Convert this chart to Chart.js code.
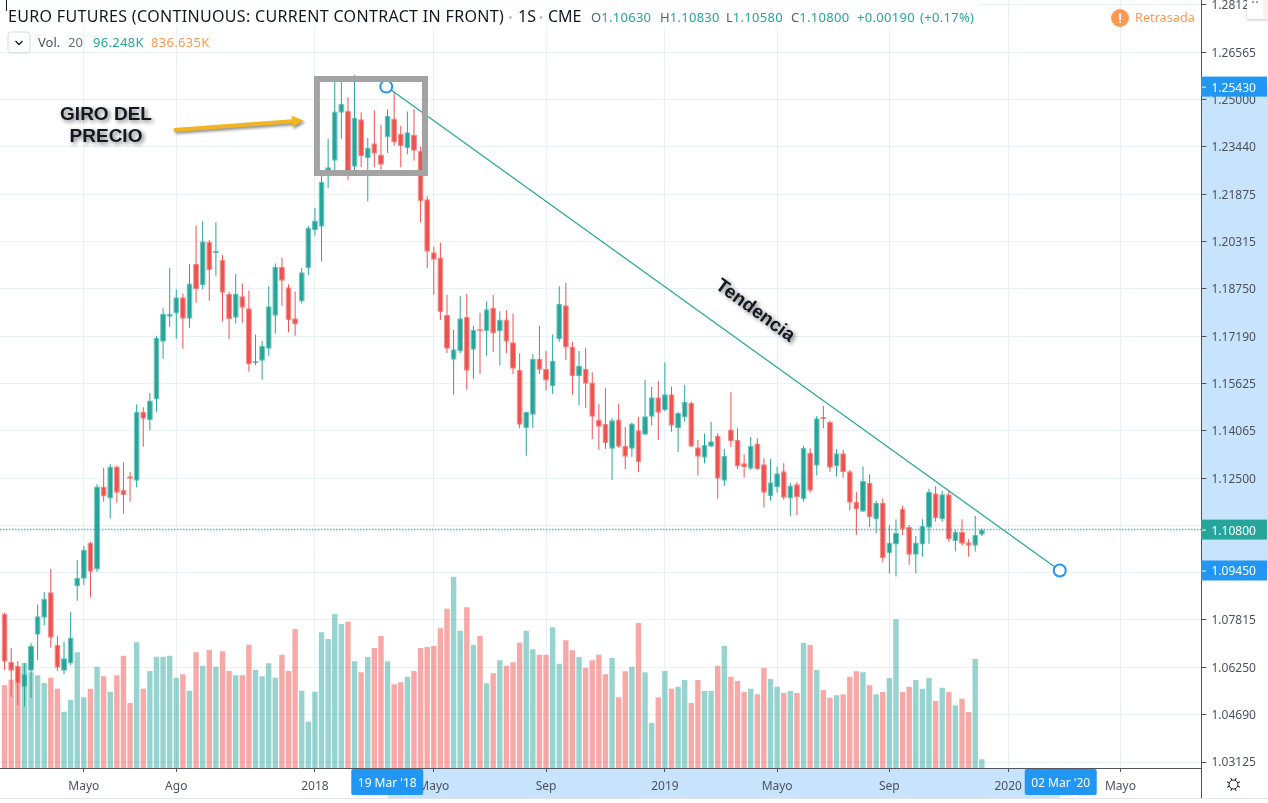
<!DOCTYPE html>
<html>
<head>
<meta charset="utf-8">
<title>Euro Futures</title>
<style>html,body{margin:0;padding:0;background:#fff;overflow:hidden}canvas{display:block}</style>
<script src="https://cdn.jsdelivr.net/npm/chart.js@4/dist/chart.umd.min.js"></script>
</head>
<body>
<canvas id="c" width="1268" height="803"></canvas>
<script>
const openPrices = [
1.0801,1.0644,1.0630,1.0561,1.0614,1.0733,1.0789,1.0873,1.0699,1.0614,
1.0638,1.0894,1.0918,1.1037,1.0948,1.1222,1.1183,1.1288,1.1211,1.1256,
1.1241,1.1469,1.1442,1.1510,1.1700,1.1783,1.1794,1.1847,1.1776,1.1957,
1.1888,1.2030,1.1993,1.1970,1.1858,1.1780,1.1851,1.1811,1.1630,1.1638,
1.1677,1.1786,1.1948,1.1880,1.1778,1.1833,1.1943,1.2069,1.2080,1.2251,
1.2298,1.2457,1.2463,1.2278,1.2435,1.2306,1.2356,1.2319,1.2376,1.2438,
1.2387,1.2339,1.2384,1.2330,1.2171,1.1996,1.1979,1.1789,1.1641,1.1670,
1.1782,1.1674,1.1742,1.1736,1.1812,1.1736,1.1774,1.1699,1.1607,1.1415,
1.1459,1.1643,1.1610,1.1554,1.1709,1.1821,1.1683,1.1587,1.1610,1.1566,
1.1444,1.1429,1.1347,1.1444,1.1356,1.1347,1.1408,1.1393,1.1453,1.1517,
1.1474,1.1527,1.1415,1.1452,1.1499,1.1352,1.1317,1.1354,1.1389,1.1241,
1.1411,1.1376,1.1299,1.1281,1.1364,1.1296,1.1191,1.1220,1.1273,1.1183,
1.1230,1.1180,1.1335,1.1291,1.1452,1.1436,1.1289,1.1332,1.1273,1.1171,
1.1139,1.1234,1.1115,1.1168,1.1002,1.1031,1.1150,1.1089,1.0997,1.1031,
1.1086,1.1200,1.1114,1.1197,1.1042,1.1073,1.1038,1.1027,1.1063];
const closePrices = [
1.0644,1.0614,1.0571,1.0602,1.0696,1.0794,1.0852,1.0723,1.0624,1.0655,
1.0724,1.0921,1.1013,1.0941,1.1222,1.1189,1.1288,1.1202,1.1194,1.1248,
1.1469,1.1446,1.1506,1.1713,1.1792,1.1792,1.1847,1.1776,1.1893,1.1874,
1.2032,1.1937,1.2000,1.1862,1.1775,1.1858,1.1813,1.1627,1.1637,1.1687,
1.1818,1.1948,1.1902,1.1772,1.1757,1.1930,1.2077,1.2101,1.2228,1.2277,
1.2461,1.2486,1.2261,1.2439,1.2314,1.2340,1.2321,1.2285,1.2446,1.2358,
1.2346,1.2392,1.2331,1.2164,1.1998,1.1971,1.1798,1.1677,1.1676,1.1778,
1.1605,1.1739,1.1736,1.1808,1.1728,1.1774,1.1700,1.1611,1.1426,1.1469,
1.1643,1.1608,1.1572,1.1637,1.1825,1.1681,1.1587,1.1621,1.1562,1.1453,
1.1420,1.1365,1.1441,1.1354,1.1321,1.1430,1.1303,1.1454,1.1517,1.1466,
1.1527,1.1423,1.1465,1.1501,1.1354,1.1321,1.1360,1.1372,1.1248,1.1324,
1.1373,1.1288,1.1286,1.1356,1.1280,1.1202,1.1236,1.1266,1.1185,1.1226,
1.1188,1.1350,1.1208,1.1448,1.1445,1.1284,1.1332,1.1270,1.1169,1.1147,
1.1241,1.1122,1.1168,1.0986,1.1037,1.1069,1.1081,1.0997,1.1037,1.1092,
1.1204,1.1118,1.1197,1.1049,1.1073,1.1033,1.1027,1.1062,1.1080];
const highPrices = [
1.0806,1.0689,1.0646,1.0639,1.0705,1.0833,1.0874,1.0950,1.0729,1.0710,
1.0808,1.0980,1.1026,1.1040,1.1230,1.1284,1.1296,1.1292,1.1302,1.1270,
1.1494,1.1484,1.1531,1.1720,1.1811,1.1944,1.1874,1.1860,1.1957,1.2084,
1.2098,1.2036,1.2095,1.1987,1.1865,1.1924,1.1893,1.1869,1.1724,1.1703,
1.1884,1.1959,1.1979,1.1890,1.1866,1.1944,1.2083,1.2142,1.2264,1.2370,
1.2571,1.2571,1.2508,1.2581,1.2458,1.2373,1.2465,1.2417,1.2468,1.2526,
1.2413,1.2461,1.2468,1.2344,1.2182,1.2014,1.2027,1.1855,1.1739,1.1851,
1.1859,1.1753,1.1796,1.1833,1.1855,1.1801,1.1804,1.1793,1.1662,1.1469,
1.1659,1.1753,1.1670,1.1724,1.1884,1.1894,1.1700,1.1670,1.1680,1.1600,
1.1495,1.1547,1.1448,1.1495,1.1419,1.1434,1.1452,1.1575,1.1551,1.1571,
1.1632,1.1553,1.1469,1.1558,1.1503,1.1376,1.1397,1.1436,1.1398,1.1346,
1.1534,1.1415,1.1329,1.1386,1.1382,1.1316,1.1313,1.1288,1.1299,1.1234,
1.1236,1.1357,1.1349,1.1455,1.1488,1.1440,1.1346,1.1343,1.1277,1.1204,
1.1288,1.1263,1.1175,1.1183,1.1095,1.1114,1.1160,1.1095,1.1059,1.1114,
1.1215,1.1223,1.1208,1.1208,1.1079,1.1114,1.1049,1.1125,1.1083];
const lowPrices = [
1.0616,1.0528,1.0501,1.0495,1.0525,1.0649,1.0765,1.0690,1.0613,1.0602,
1.0633,1.0845,1.0897,1.0856,1.0941,1.1172,1.1117,1.1169,1.1133,1.1172,
1.1220,1.1354,1.1408,1.1469,1.1644,1.1750,1.1710,1.1677,1.1747,1.1829,
1.1874,1.1836,1.1918,1.1767,1.1709,1.1761,1.1763,1.1601,1.1623,1.1575,
1.1654,1.1728,1.1819,1.1732,1.1720,1.1827,1.1921,1.2051,1.1965,1.2208,
1.2248,1.2371,1.2234,1.2251,1.2277,1.2164,1.2277,1.2268,1.2324,1.2348,
1.2277,1.2320,1.2298,1.2095,1.1943,1.1855,1.1772,1.1663,1.1525,1.1663,
1.1542,1.1578,1.1594,1.1654,1.1666,1.1623,1.1662,1.1594,1.1415,1.1324,
1.1415,1.1594,1.1539,1.1528,1.1700,1.1640,1.1525,1.1491,1.1482,1.1379,
1.1343,1.1346,1.1244,1.1350,1.1280,1.1321,1.1270,1.1393,1.1423,1.1376,
1.1471,1.1403,1.1336,1.1436,1.1354,1.1259,1.1299,1.1354,1.1182,1.1225,
1.1353,1.1280,1.1251,1.1277,1.1277,1.1154,1.1175,1.1202,1.1179,1.1125,
1.1128,1.1172,1.1202,1.1259,1.1415,1.1270,1.1255,1.1251,1.1144,1.1063,
1.1139,1.1089,1.1068,1.0972,1.0936,1.0925,1.1062,1.0964,1.0936,1.0990,
1.1033,1.1106,1.1106,1.1040,1.1008,1.1027,1.0990,1.1008,1.1058];
const volumeK = [
913,971,927,1155,1053,1020,935,993,872,619,
751,1273,778,872,1114,1009,839,1020,1235,715,
1383,872,1067,1224,1224,1235,993,1031,850,1273,
1125,1298,1114,1284,1067,1020,1020,1356,1078,1009,
1152,993,1246,1067,1529,850,509,839,1493,1419,
1694,1584,1609,1174,1053,1221,1320,1452,1174,921,
943,1004,1067,1320,1331,1342,1537,1752,2104,1510,
1768,1353,1452,932,1042,1185,1125,1163,1378,1510,
1306,1246,1246,1548,1147,1405,1295,1221,1103,1185,
1246,1031,1210,778,1064,1114,1595,1053,495,778,
1067,872,894,968,715,968,847,847,1125,1342,
1004,957,836,872,811,1100,979,894,825,847,
825,1378,1353,1078,858,773,800,811,1004,1064,
1053,910,811,836,990,1636,836,894,968,872,
990,737,883,836,690,762,616,1199,96.248];

const priceTicks = [1.28125,1.26565,1.25,1.2344,1.21875,1.20315,1.1875,1.1719,1.15625,1.14065,1.125,1.10935,1.09375,1.07815,1.0625,1.0469,1.03125];
const timeTickIndex = [12,26,47,65,82,100,117,134,152,169];
const timeTickLabels = ['Mayo','Ago','2018','Mayo','Sep','2019','Mayo','Sep','2020','Mayo'];

const lastPrice = 1.108;
const trendIndex = [57.8,159.8];
const trendPrice = [1.2543,1.0945];
const trendDateLabels = ["19 Mar '18","02 Mar '20"];
const boxIndex = [47.3,63.67];
const boxPrice = [1.25681,1.22577];
const arrowIndex = [25.65,45.27];
const arrowPrice = [1.2400,1.2431];

const X_MIN = -0.697, X_MAX = 181.27;
const Y_MIN = 1.02927, Y_MAX = 1.2829;
const VOL_MAX = 8451;
const GREEN = '#26a69a', RED = '#ef5350', BLUE = '#2196f3', SHADE = '#c8e4fd';
const UI_FONT = '"Noto Sans"';

const idx = openPrices.map((_, i) => i);
const isUp = i => closePrices[i] >= openPrices[i];

function txt(ctx, s, x, y, font, color, opt) {
  opt = opt || {};
  ctx.save();
  ctx.font = font;
  ctx.fillStyle = color;
  ctx.textAlign = opt.align || 'left';
  ctx.textBaseline = 'alphabetic';
  if (opt.spacing) ctx.letterSpacing = opt.spacing;
  if (opt.shadow) {
    ctx.shadowColor = 'rgba(0,0,0,0.55)';
    ctx.shadowBlur = 4;
    ctx.shadowOffsetX = 2;
    ctx.shadowOffsetY = 2;
  }
  if (opt.rotate !== undefined) {
    ctx.translate(x, y);
    ctx.rotate(opt.rotate);
    ctx.fillText(s, 0, 0);
  } else {
    ctx.fillText(s, x, y);
  }
  ctx.restore();
}

const chromePlugin = {
  id: 'chrome',
  beforeDraw(chart) {
    const { ctx, scales } = chart;
    const y0 = scales.y.getPixelForValue(trendPrice[0]);
    const y1 = scales.y.getPixelForValue(trendPrice[1]);
    const x0 = scales.x.getPixelForValue(58);
    const x1 = scales.x.getPixelForValue(trendIndex[1]);
    ctx.save();
    ctx.fillStyle = SHADE;
    ctx.fillRect(1202, y0, 66, y1 - y0);
    ctx.fillRect(x0, 769, x1 - x0, 29);
    ctx.restore();
  },
  beforeDatasetsDraw(chart) {
    const { ctx } = chart;
    ctx.save();
    ctx.fillStyle = 'rgba(255,255,255,0.75)';
    ctx.fillRect(0, 0, 980, 27);
    ctx.restore();
  },
  afterDraw(chart) {
    const { ctx, scales } = chart;
    const sx = scales.x, sy = scales.y;
    ctx.save();
    // frame lines
    ctx.fillStyle = '#50535e';
    ctx.fillRect(1201, 0, 1, 798);
    ctx.fillStyle = '#e0e3eb';
    ctx.fillRect(0, 798, 1268, 1);
    // cursor sliver
    ctx.fillStyle = '#131722';
    ctx.fillRect(6, 0, 1, 11);

    // price labels
    const priceLabel = (p, bg) => {
      const y = sy.getPixelForValue(p);
      ctx.fillStyle = bg;
      ctx.fillRect(1201, y - 10, 66, 20);
      ctx.fillStyle = '#fff';
      ctx.fillRect(1202, y, 4, 1);
      txt(ctx, p.toFixed(5), 1211.5, y + 5, '12px ' + UI_FONT, '#fff');
    };
    priceLabel(trendPrice[0], BLUE);
    priceLabel(trendPrice[1], BLUE);
    priceLabel(lastPrice, GREEN);

    // time labels
    const timeLabel = (i, label) => {
      const x = sx.getPixelForValue(i) + 1;
      ctx.fillStyle = BLUE;
      ctx.beginPath();
      ctx.roundRect(x - 36, 769, 72, 26, 2);
      ctx.fill();
      txt(ctx, label, x, 787, '12px ' + UI_FONT, '#fff', { align: 'center' });
    };
    timeLabel(trendIndex[0], trendDateLabels[0]);
    timeLabel(trendIndex[1], trendDateLabels[1]);

    // gear
    ctx.strokeStyle = '#131722';
    ctx.lineWidth = 1;
    ctx.beginPath();
    ctx.arc(1233.5, 784.5, 4.5, 0, Math.PI * 2);
    ctx.stroke();
    for (let k = 0; k < 8; k++) {
      const a = k * Math.PI / 4 + Math.PI / 8;
      ctx.beginPath();
      ctx.moveTo(1233.5 + 4.5 * Math.cos(a), 784.5 + 4.5 * Math.sin(a));
      ctx.lineTo(1233.5 + 7 * Math.cos(a), 784.5 + 7 * Math.sin(a));
      ctx.stroke();
    }

    // top right card
    ctx.save();
    ctx.shadowColor = 'rgba(80,90,110,0.35)';
    ctx.shadowBlur = 3;
    ctx.shadowOffsetY = 1;
    ctx.fillStyle = '#fff';
    ctx.fillRect(1247, -4, 30, 23);
    ctx.restore();
    ctx.fillStyle = '#fdf0ee';
    ctx.fillRect(1263, 0, 5, 18);
    ctx.fillStyle = '#9aa0aa';
    ctx.fillRect(1252, 1, 2, 2);
    ctx.fillRect(1256, 1, 2, 2);

    // title
    txt(ctx, 'EURO FUTURES (CONTINUOUS: CURRENT CONTRACT IN FRONT)', 8, 22, '16px ' + UI_FONT, '#131722', { spacing: '0.33px' });
    ctx.fillStyle = '#a8abb3';
    ctx.beginPath(); ctx.arc(510.5, 17.5, 1.2, 0, 7); ctx.arc(541, 17.5, 1.2, 0, 7); ctx.fill();
    txt(ctx, '1S', 518, 22, '16px ' + UI_FONT, '#131722');
    txt(ctx, 'CME', 548, 22, '16px ' + UI_FONT, '#131722');

    const ohlc = [['O', '1.10630', 591], ['H', '1.10830', 660], ['L', '1.10580', 726], ['C', '1.10800', 791]];
    const small = '13px ' + UI_FONT;
    ohlc.forEach(([k, v, x]) => {
      txt(ctx, k, x, 22, small, '#5d606b');
      ctx.font = small;
      const w = ctx.measureText(k).width;
      txt(ctx, v, x + w, 22, small, GREEN, { spacing: '0.3px' });
    });
    txt(ctx, '+0.00190', 857, 22, small, GREEN, { spacing: '0.3px' });
    txt(ctx, '(+0.17%)', 920, 22, small, GREEN, { spacing: '0.3px' });

    // retrasada
    ctx.fillStyle = '#ff9850';
    ctx.beginPath(); ctx.arc(1120, 18, 9, 0, Math.PI * 2); ctx.fill();
    ctx.fillStyle = '#fff';
    ctx.fillRect(1119, 13, 2, 7);
    ctx.fillRect(1119, 21, 2, 2);
    txt(ctx, 'Retrasada', 1135, 22, '12.7px ' + UI_FONT, '#ff9850');

    // volume legend
    ctx.strokeStyle = '#d6d9e0';
    ctx.lineWidth = 1;
    ctx.beginPath();
    ctx.roundRect(8, 32, 22, 21, 3);
    ctx.stroke();
    ctx.strokeStyle = '#131722';
    ctx.lineWidth = 1.3;
    ctx.beginPath();
    ctx.moveTo(15.5, 41); ctx.lineTo(19, 44.5); ctx.lineTo(22.5, 41);
    ctx.stroke();
    txt(ctx, 'Vol.', 38, 47, small, '#4c525e');
    txt(ctx, '20', 68, 47, small, '#6a6d78');
    txt(ctx, '96.248K', 93, 47, small, GREEN, { spacing: '0.3px' });
    txt(ctx, '836.635K', 151, 47, small, '#ff9850', { spacing: '0.3px' });

    // annotations
    const bold = 'bold 19px "Liberation Sans"';
    txt(ctx, 'GIRO DEL', 106, 120, bold, '#131722', { align: 'center', shadow: true });
    txt(ctx, 'PRECIO', 106, 142, bold, '#131722', { align: 'center', shadow: true });
    txt(ctx, 'Tendencia', 752, 315, bold, '#131722', { align: 'center', shadow: true, rotate: 36 * Math.PI / 180 });

    // arrow
    const ax0 = sx.getPixelForValue(arrowIndex[0]), ay0 = sy.getPixelForValue(arrowPrice[0]);
    const ax1 = sx.getPixelForValue(arrowIndex[1]), ay1 = sy.getPixelForValue(arrowPrice[1]);
    const ang = Math.atan2(ay1 - ay0, ax1 - ax0);
    ctx.save();
    ctx.shadowColor = 'rgba(0,0,0,0.45)';
    ctx.shadowBlur = 3;
    ctx.shadowOffsetX = 1.5;
    ctx.shadowOffsetY = 2;
    ctx.fillStyle = '#f2b51f';
    ctx.translate(ax0, ay0);
    ctx.rotate(ang);
    const len = Math.hypot(ax1 - ax0, ay1 - ay0);
    ctx.beginPath();
    ctx.moveTo(0, -2);
    ctx.lineTo(len - 11, -2);
    ctx.lineTo(len - 12, -6);
    ctx.lineTo(len, 0);
    ctx.lineTo(len - 12, 6);
    ctx.lineTo(len - 11, 2);
    ctx.lineTo(0, 2);
    ctx.closePath();
    ctx.fill();
    ctx.restore();
    ctx.restore();
  }
};

const chartData = {
  datasets: [
    {
      type: 'bar', label: 'Volume', yAxisID: 'yv', order: 6, grouped: false,
      data: idx.map(i => ({ x: i, y: volumeK[i] })),
      backgroundColor: idx.map(i => isUp(i) ? 'rgba(38,166,154,0.48)' : 'rgba(239,83,80,0.5)'),
      barThickness: 5.4, inflateAmount: 0
    },
    {
      type: 'bar', label: 'Wicks', yAxisID: 'y', order: 5, grouped: false,
      data: idx.map(i => ({ x: i, y: [lowPrices[i], highPrices[i]] })),
      backgroundColor: idx.map(i => isUp(i) ? GREEN : RED),
      barThickness: 1, inflateAmount: 0
    },
    {
      type: 'bar', label: 'Bodies', yAxisID: 'y', order: 4, grouped: false,
      data: idx.map(i => ({ x: i, y: [openPrices[i], closePrices[i]] })),
      backgroundColor: idx.map(i => isUp(i) ? GREEN : RED),
      borderColor: idx.map(i => isUp(i) ? 'rgba(38,166,154,0.65)' : 'rgba(239,83,80,0.65)'),
      borderWidth: 1, borderSkipped: false,
      barThickness: 6, inflateAmount: 0
    },
    {
      type: 'line', label: 'Last', yAxisID: 'y', order: 3,
      data: [{ x: X_MIN, y: lastPrice }, { x: X_MAX, y: lastPrice }],
      borderColor: 'rgba(38,166,154,0.75)', borderWidth: 1.5, borderDash: [1.5, 1.5], pointRadius: 0, tension: 0
    },
    {
      type: 'line', label: 'Trend', yAxisID: 'y', order: 2,
      data: trendIndex.map((x, k) => ({ x, y: trendPrice[k] })),
      borderColor: GREEN, borderWidth: 1.2, tension: 0,
      pointRadius: 6, pointBorderWidth: 2, pointBorderColor: BLUE, pointBackgroundColor: '#fff', pointStyle: 'circle'
    },
    {
      type: 'line', label: 'Box', yAxisID: 'y', order: 1,
      data: [
        { x: boxIndex[0], y: boxPrice[0] }, { x: boxIndex[1], y: boxPrice[0] },
        { x: boxIndex[1], y: boxPrice[1] }, { x: boxIndex[0], y: boxPrice[1] },
        { x: boxIndex[0], y: boxPrice[0] }
      ],
      borderColor: '#a3a3a3', borderWidth: 6, pointRadius: 0, tension: 0,
      borderJoinStyle: 'miter', borderCapStyle: 'square', fill: false
    }
  ]
};

Chart.defaults.font.family = UI_FONT;

new Chart(document.getElementById('c'), {
  type: 'bar',
  data: chartData,
  options: {
    responsive: false,
    animation: false,
    devicePixelRatio: 1,
    events: [],
    layout: { padding: 0, autoPadding: false },
    plugins: { legend: { display: false }, tooltip: { enabled: false }, title: { display: false } },
    scales: {
      x: {
        type: 'linear', offset: false, min: X_MIN, max: X_MAX,
        afterBuildTicks(s) { s.ticks = timeTickIndex.map(v => ({ value: v })); },
        afterFit(s) { s.height = 35; s.paddingLeft = 0; s.paddingRight = 0; },
        grid: { color: '#e9f1f7', lineWidth: 1, tickLength: 4, tickColor: '#50535e', offset: false },
        border: { color: '#50535e', width: 1 },
        ticks: {
          autoSkip: false, maxRotation: 0, minRotation: 0, padding: 7,
          color: '#4c525e', font: { size: 12, family: UI_FONT },
          callback(v) { const k = timeTickIndex.indexOf(v); return k >= 0 ? timeTickLabels[k] : ''; }
        }
      },
      y: {
        type: 'linear', position: 'right', min: Y_MIN, max: Y_MAX,
        afterBuildTicks(s) { s.ticks = priceTicks.map(v => ({ value: v })); },
        afterFit(s) { s.width = 66.5; s.paddingTop = 0; s.paddingBottom = 0; },
        grid: { color: '#e9f1f7', lineWidth: 1, tickLength: 5, tickColor: '#50535e' },
        border: { color: '#50535e', width: 1 },
        ticks: {
          autoSkip: false, padding: 5, labelOffset: 1, color: '#4c525e', font: { size: 12, family: UI_FONT },
          callback(v) { return Number(v).toFixed(5); }
        }
      },
      yv: {
        type: 'linear', display: false, position: 'left', min: 0, max: VOL_MAX,
        grid: { display: false }
      }
    }
  },
  plugins: [chromePlugin]
});
</script>
</body>
</html>
